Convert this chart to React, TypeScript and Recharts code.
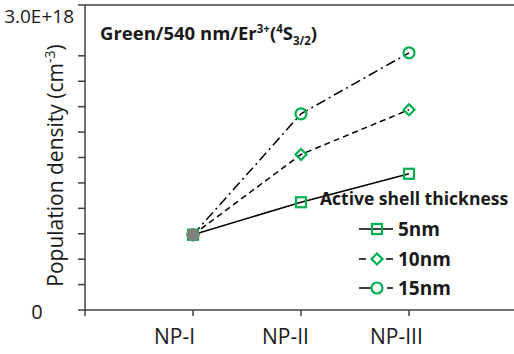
import { Line, LineChart, ReferenceLine, XAxis, YAxis } from "recharts";

const categories = ["NP-I", "NP-II", "NP-III"];
const shell5nm = [0.74e18, 1.06e18, 1.34e18];
const shell10nm = [0.74e18, 1.53e18, 1.97e18];
const shell15nm = [0.74e18, 1.93e18, 2.53e18];
const bareCore = [0.74e18];
const yTicks = [
  0, 2.5e17, 5e17, 7.5e17, 1e18, 1.25e18, 1.5e18, 1.75e18, 2e18, 2.25e18,
  2.5e18, 2.75e18, 3e18,
];
const xTicks = [0, 1, 2, 3, 4];

const GREEN = "#00b050";
const AXIS = "#404040";
const INK = "#1a1a1a";
const FONT = "'Open Sans', sans-serif";

type Shape = "square" | "diamond" | "circle";

const series: {
  key: string;
  name: string;
  shape: Shape;
  dash?: string;
  legendDash?: string;
}[] = [
  { key: "s5", name: "5nm", shape: "square" },
  { key: "s10", name: "10nm", shape: "diamond", dash: "6 4", legendDash: "7 20 7" },
  { key: "s15", name: "15nm", shape: "circle", dash: "10 4 2 4", legendDash: "13 15 7" },
];

const rows = categories.map((name, i) => ({
  x: i + 1,
  name,
  s5: shell5nm[i],
  s10: shell10nm[i],
  s15: shell15nm[i],
  core: bareCore[i],
}));

function Marker({ shape, cx, cy }: { shape: Shape; cx: number; cy: number }) {
  const common = { fill: "none", stroke: GREEN, strokeWidth: 2.2 };
  if (shape === "square")
    return <rect x={cx - 5} y={cy - 5} width={10} height={10} {...common} />;
  if (shape === "diamond")
    return (
      <polygon
        points={`${cx},${cy - 5.5} ${cx + 5.5},${cy} ${cx},${cy + 5.5} ${cx - 5.5},${cy}`}
        {...common}
      />
    );
  return <circle cx={cx} cy={cy} r={5.5} {...common} />;
}

// only the two ends of the value axis carry a label
function YTick(props: any) {
  const { x, y, payload } = props;
  if (payload.value === 0)
    return (
      <text x={37} y={y + 9} textAnchor="middle" fontSize={20} fill={INK} fontFamily={FONT}>
        0
      </text>
    );
  if (payload.value === 3e18)
    return (
      <text x={x - 2} y={y + 14} textAnchor="end" fontSize={19} fill={INK} fontFamily={FONT}>
        3.0E+18
      </text>
    );
  return <g />;
}

// category names sit a little left of their tick
function XTick(props: any) {
  const { x, y, payload } = props;
  const label = categories[payload.value - 1] ?? "";
  return (
    <text x={x - 39} y={y} dy={26} textAnchor="start" fontSize={21} fill={INK} fontFamily={FONT}>
      {label}
    </text>
  );
}

function YLabel(props: any) {
  const { viewBox } = props;
  const cy = viewBox.y + viewBox.height / 2 + 8;
  const cx = 63;
  return (
    <text
      x={cx}
      y={cy}
      transform={`rotate(-90 ${cx} ${cy})`}
      textAnchor="middle"
      fontSize={21}
      fill={INK}
      fontFamily={FONT}
    >
      Population density (cm
      <tspan dy={-8} fontSize={14}>
        -3
      </tspan>
      <tspan dy={8}>)</tspan>
    </text>
  );
}

export default function App() {
  return (
    <div
      style={{
        position: "absolute",
        left: 0,
        top: 0,
        width: 514,
        height: 354,
        overflow: "hidden",
        background: "#fff",
      }}
    >
      <LineChart
        width={530}
        height={354}
        data={rows}
        margin={{ top: 5, right: 13, bottom: 0, left: 0 }}
      >
        <XAxis
          dataKey="x"
          type="number"
          domain={[0, 4]}
          ticks={xTicks}
          tick={<XTick />}
          tickSize={6}
          height={44}
          stroke={AXIS}
          strokeWidth={1.5}
        />
        <YAxis
          type="number"
          domain={[0, 3e18]}
          ticks={yTicks}
          tick={<YTick />}
          tickSize={7}
          width={85}
          stroke={AXIS}
          strokeWidth={1.5}
          label={<YLabel />}
        />
        <ReferenceLine y={3e18} stroke={AXIS} strokeWidth={1.5} />
        {series.map((s) => (
          <Line
            key={s.key}
            dataKey={s.key}
            stroke="#000"
            strokeWidth={1.5}
            strokeDasharray={s.dash}
            isAnimationActive={false}
            dot={(p: any) => (
              <Marker key={`${s.key}-${p.index}`} shape={s.shape} cx={p.cx} cy={p.cy} />
            )}
          />
        ))}
        <Line
          dataKey="core"
          stroke="none"
          isAnimationActive={false}
          dot={(p: any) =>
            p.cy == null ? (
              <g key={`core-${p.index}`} />
            ) : (
              <circle key={`core-${p.index}`} cx={p.cx} cy={p.cy} r={6.5} fill="#808080" />
            )
          }
        />
      </LineChart>

      <div
        style={{
          position: "absolute",
          left: 100,
          top: 22,
          lineHeight: "22px",
          fontFamily: FONT,
          fontWeight: 700,
          fontSize: 18.5,
          color: INK,
          whiteSpace: "nowrap",
        }}
      >
        Green/540 nm/Er<sup style={{ fontSize: 11.5, lineHeight: 0 }}>3+</sup>(
        <sup style={{ fontSize: 11.5, lineHeight: 0 }}>4</sup>S
        <sub style={{ fontSize: 11.5, lineHeight: 0 }}>3/2</sub>)
      </div>

      <div
        style={{
          position: "absolute",
          left: 320,
          top: 186,
          lineHeight: "24px",
          fontFamily: FONT,
          fontWeight: 700,
          fontSize: 17.5,
          color: INK,
          whiteSpace: "nowrap",
        }}
      >
        Active shell thickness
      </div>
      {series.map((s, i) => (
        <div
          key={s.key}
          style={{
            position: "absolute",
            left: 358,
            top: 218 + i * 29.5,
            height: 22,
            display: "flex",
            alignItems: "center",
            fontFamily: FONT,
            fontWeight: 700,
            fontSize: 19,
            color: INK,
          }}
        >
          <svg width={36} height={22}>
            <line
              x1={1}
              x2={35}
              y1={11}
              y2={11}
              stroke="#000"
              strokeWidth={1.5}
              strokeDasharray={s.legendDash}
            />
            <Marker shape={s.shape} cx={19} cy={11} />
          </svg>
          <span style={{ marginLeft: 4 }}>{s.name}</span>
        </div>
      ))}
    </div>
  );
}
